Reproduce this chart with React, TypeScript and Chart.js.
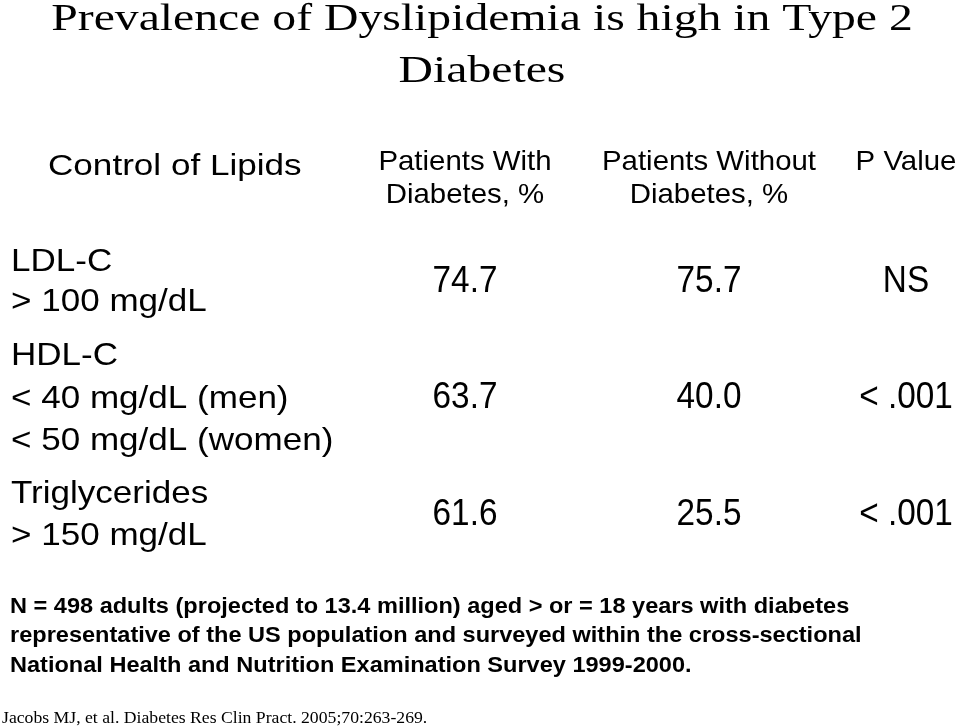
import React, { useEffect, useRef } from "react";
import { Chart, registerables } from "chart.js";

Chart.register(...registerables);

// ---- content / data ----
const TITLE_LINES = ["Prevalence of Dyslipidemia is high in Type 2", "Diabetes"];
const ROW_HEADER = ["Control of Lipids"];
const COL_HEADERS = [["Patients With", "Diabetes, %"], ["Patients Without", "Diabetes, %"], ["P Value"]];
const ROW_LABELS = [
  ["LDL-C", "> 100 mg/dL"],
  ["HDL-C", "< 40 mg/dL (men)", "< 50 mg/dL (women)"],
  ["Triglycerides", "> 150 mg/dL"],
];
const WITH_DIABETES = [74.7, 63.7, 61.6];
const WITHOUT_DIABETES = [75.7, 40.0, 25.5];
const P_VALUES = ["NS", "< .001", "< .001"];
const FOOTNOTE = [
  "N = 498 adults (projected to 13.4 million) aged > or = 18 years with diabetes",
  "representative of the US population and surveyed within the cross-sectional",
  "National Health and Nutrition Examination Survey 1999-2000.",
];
const CITATION = "Jacobs MJ, et al. Diabetes Res Clin Pract. 2005;70:263-269.";

// ---- layout (in slide units, mapped through the chart's scales) ----
const W = 960;
const H = 727;
const COL_X = [465, 709, 906];
const ROW_VALUE_Y = [292, 408, 525];
const ROW_LABEL_Y = [[271, 311], [365, 408, 450], [503, 545]];
const LABEL_X = 11;
const HEADER_Y = [170, 203];
const ROW_HEADER_POS = { x: 48, y: 175 };
const TITLE_X = 482;
const TITLE_Y = [30, 82];
const FOOT_X = 10;
const FOOT_Y = [613, 642, 672];
const CITE_POS = { x: 2, y: 723 };

const SANS = "'Liberation Sans', Arial, Helvetica, sans-serif";
const SERIF = "'Liberation Serif', 'Times New Roman', serif";

const STYLE = {
  title: { font: `38px ${SERIF}`, sx: 1.255 },
  rowHeader: { font: `30px ${SANS}`, sx: 1.17 },
  colHeader: { font: `28px ${SANS}`, sx: 1.05 },
  rowLabel: { font: `32px ${SANS}`, sx: 1.095 },
  value: { font: `37px ${SANS}`, sx: 0.9 },
  foot: { font: `bold 22px ${SANS}`, sx: 1.07 },
  cite: { font: `17px ${SERIF}`, sx: 1.04 },
};

function drawText(ctx: CanvasRenderingContext2D, text: string, x: number, y: number, st: { font: string; sx: number }, align: CanvasTextAlign) {
  ctx.save();
  ctx.font = st.font;
  ctx.fillStyle = "#000";
  ctx.textBaseline = "alphabetic";
  ctx.textAlign = align;
  ctx.translate(x, y);
  ctx.scale(st.sx, 1);
  ctx.fillText(text, 0, 0);
  ctx.restore();
}

const tablePlugin = {
  id: "tableText",
  afterDatasetsDraw(chart: any) {
    const ctx = chart.ctx as CanvasRenderingContext2D;
    const xs = chart.scales.x;
    const ys = chart.scales.y;
    const px = (v: number) => xs.getPixelForValue(v);
    const py = (v: number) => ys.getPixelForValue(v);

    TITLE_LINES.forEach((t, i) => drawText(ctx, t, px(TITLE_X), py(TITLE_Y[i]), STYLE.title, "center"));
    drawText(ctx, ROW_HEADER[0], px(ROW_HEADER_POS.x), py(ROW_HEADER_POS.y), STYLE.rowHeader, "left");
    COL_HEADERS.forEach((lines, c) =>
      lines.forEach((t, i) => drawText(ctx, t, px(COL_X[c]), py(HEADER_Y[i]), STYLE.colHeader, "center"))
    );
    ROW_LABELS.forEach((lines, r) =>
      lines.forEach((t, i) => drawText(ctx, t, px(LABEL_X), py(ROW_LABEL_Y[r][i]), STYLE.rowLabel, "left"))
    );
    chart.data.datasets.forEach((ds: any, di: number) => {
      const meta = chart.getDatasetMeta(di);
      meta.data.forEach((el: any, i: number) => {
        drawText(ctx, ds.cellText[i], el.x, el.y, STYLE.value, "center");
      });
    });
    FOOTNOTE.forEach((t, i) => drawText(ctx, t, px(FOOT_X), py(FOOT_Y[i]), STYLE.foot, "left"));
    drawText(ctx, CITATION, px(CITE_POS.x), py(CITE_POS.y), STYLE.cite, "left");
  },
};

export default function App() {
  const ref = useRef<HTMLCanvasElement | null>(null);
  useEffect(() => {
    document.body.style.margin = "0";
    document.body.style.background = "#fff";
    if (!ref.current) return;
    const mk = (col: number, texts: string[]) => ({
      label: String(col),
      cellText: texts,
      data: texts.map((_, i) => ({ x: COL_X[col], y: ROW_VALUE_Y[i] })),
      pointRadius: 0,
      pointHoverRadius: 0,
      showLine: false,
    });
    const chart = new Chart(ref.current, {
      type: "scatter",
      data: {
        datasets: [
          mk(0, WITH_DIABETES.map((v) => v.toFixed(1))),
          mk(1, WITHOUT_DIABETES.map((v) => v.toFixed(1))),
          mk(2, P_VALUES),
        ] as any,
      },
      options: {
        animation: false,
        responsive: false,
        devicePixelRatio: 1,
        layout: { padding: 0 },
        plugins: { legend: { display: false }, tooltip: { enabled: false }, title: { display: false } },
        events: [],
        scales: {
          x: { type: "linear", min: 0, max: W, display: false },
          y: { type: "linear", min: 0, max: H, reverse: true, display: false },
        },
      },
      plugins: [tablePlugin],
    });
    return () => chart.destroy();
  }, []);
  return (
    <div style={{ width: W, height: H, background: "#fff" }}>
      <canvas ref={ref} width={W} height={H} style={{ display: "block" }} />
    </div>
  );
}
